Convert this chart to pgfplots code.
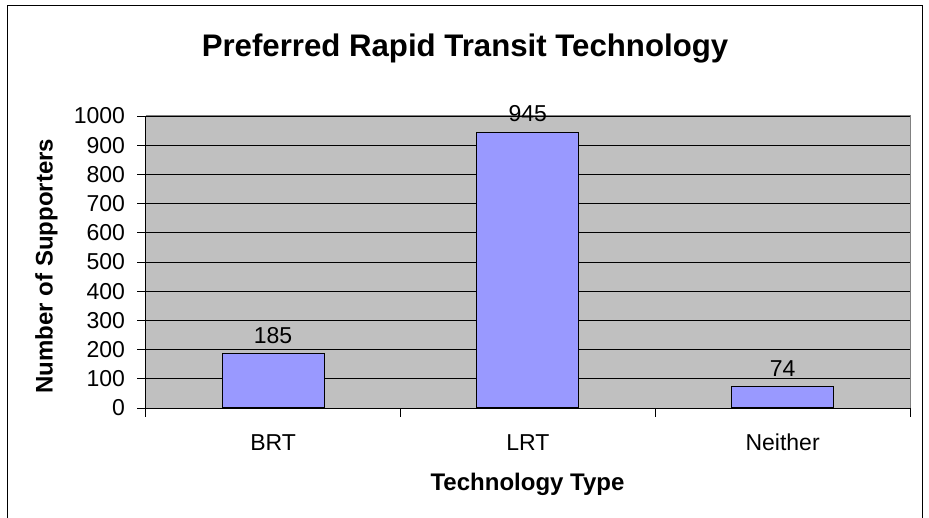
\documentclass[border=0pt]{standalone}
\usepackage{fontspec}
\setmainfont{Liberation Sans}
\usepackage{pgfplots}
\pgfplotsset{compat=1.18}
\definecolor{barblue}{HTML}{9999FF}
\definecolor{plotbg}{HTML}{C0C0C0}
\definecolor{bordergray}{HTML}{808080}
\begin{document}
\begin{tikzpicture}[x=1bp,y=1bp]
\useasboundingbox (0,0) rectangle (929,518);
\draw[line width=1.3bp] (7.5,-30) -- (7.5,512.5) -- (922.5,512.5) -- (922.5,-30);
\node[anchor=base, font=\fontsize{31.2bp}{36bp}\selectfont\bfseries] at (465,461.5) {Preferred Rapid Transit Technology};
\node[anchor=base, rotate=90, font=\fontsize{24bp}{28bp}\selectfont\bfseries] at (52.5,252) {Number of Supporters};
\node[anchor=base, font=\fontsize{24bp}{28bp}\selectfont\bfseries] at (527.5,27.3) {Technology Type};
\begin{axis}[
  at={(145.7bp,110bp)}, anchor=south west,
  scale only axis, width=764.3bp, height=292bp,
  xmin=0, xmax=3, ymin=0, ymax=1000,
  axis x line*=bottom, axis y line*=left,
  axis line style={black, line width=0.9bp, -},
  axis background/.style={fill=plotbg},
  tick align=outside, major tick length=8.7bp,
  tick style={black, line width=0.9bp},
  xtick={0,1,2,3}, xticklabels={},
  extra x ticks={0.5,1.5,2.5},
  extra x tick labels={BRT,LRT,Neither},
  extra x tick style={major tick length=0pt, xticklabel style={anchor=base, yshift=-43bp}},
  ytick={0,100,...,1000},
  ymajorgrids, grid style={black, line width=0.8bp},
  /pgf/number format/assume math mode=true,
  /pgf/number format/set thousands separator={},
  ticklabel style={font=\fontsize{23bp}{27bp}\selectfont},
  yticklabel style={anchor=east, xshift=-8.5bp},
  clip=false,
]
\draw[bordergray, line width=1bp] (rel axis cs:0,1) -- (rel axis cs:1,1) -- (rel axis cs:1,0);
\addplot[ybar, bar width=102bp, fill=barblue, draw=black, line width=1bp,
  nodes near coords,
  every node near coord/.append style={font=\fontsize{23bp}{27bp}\selectfont, yshift=6.3bp, black}]
  coordinates {(0.5,185) (1.5,945) (2.5,74)};
\end{axis}
\end{tikzpicture}
\end{document}
